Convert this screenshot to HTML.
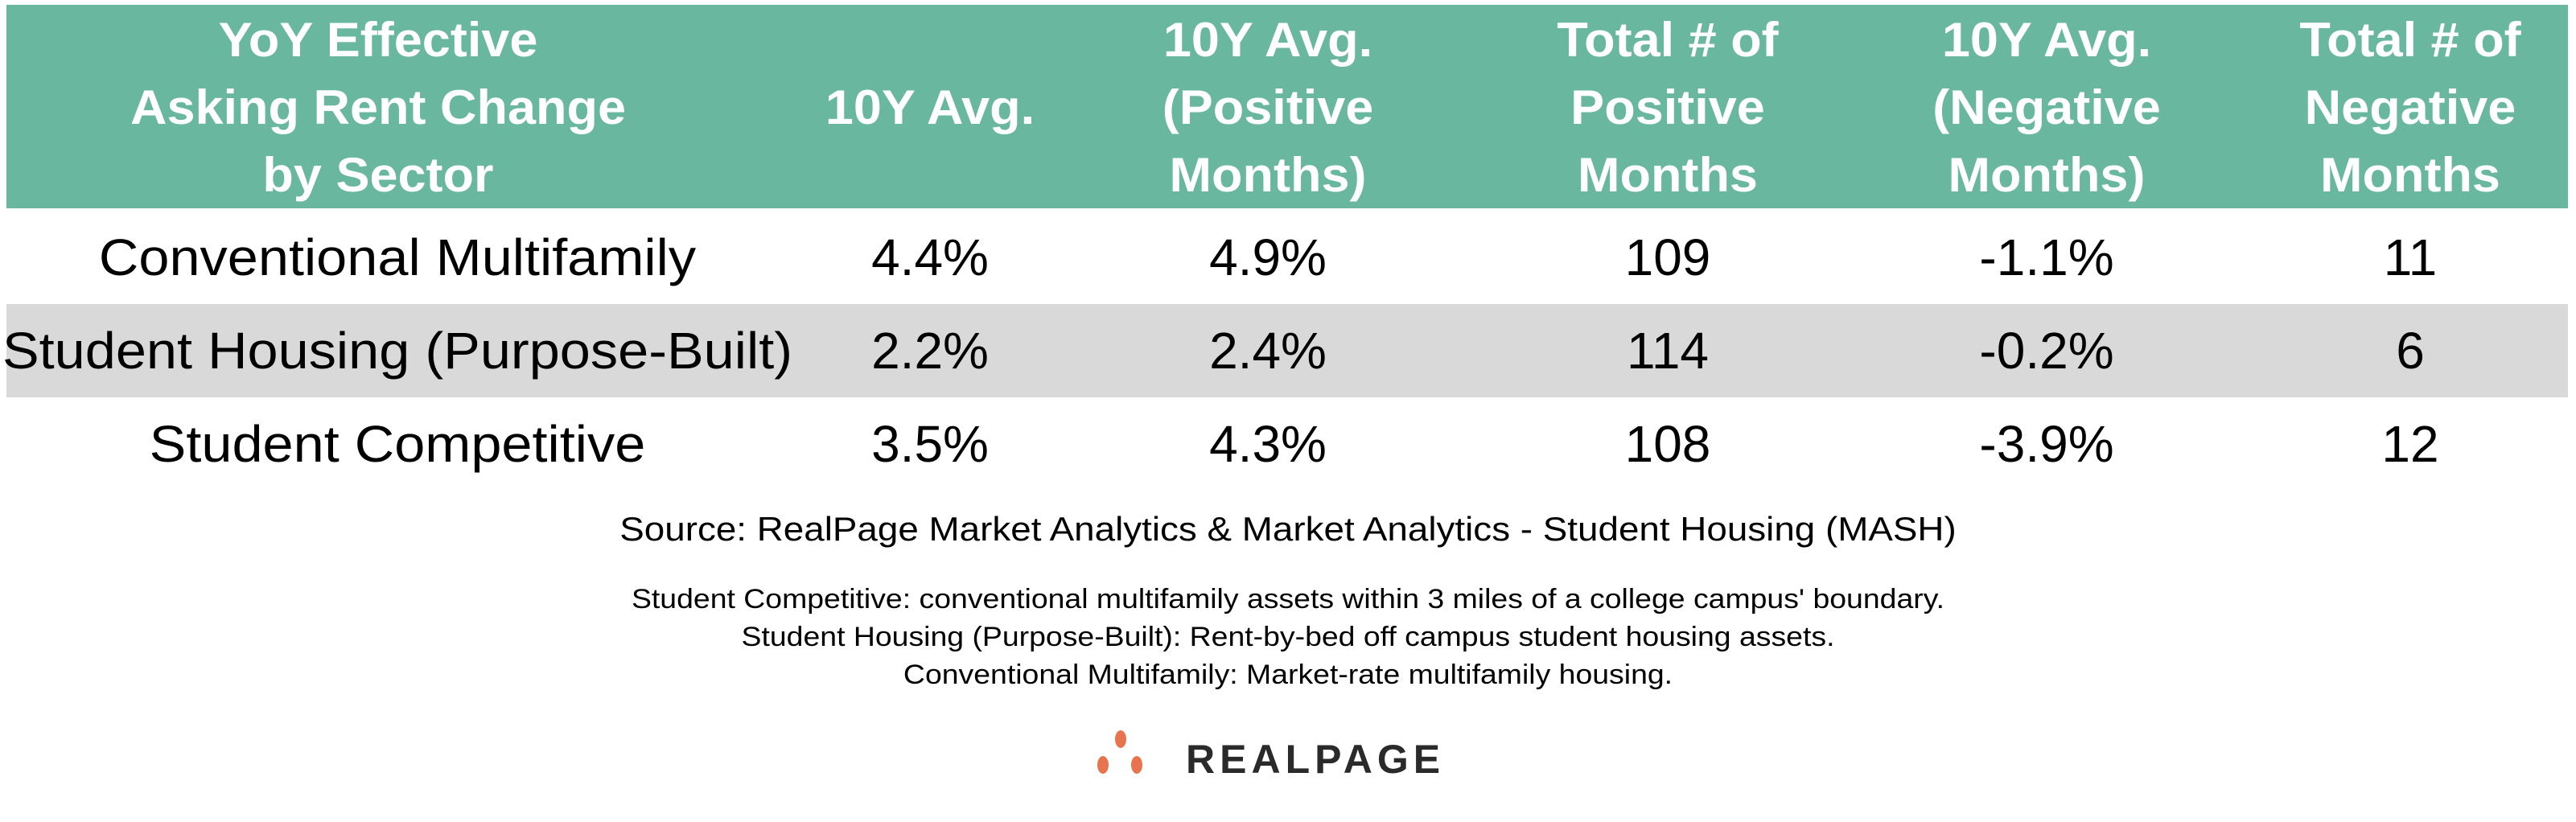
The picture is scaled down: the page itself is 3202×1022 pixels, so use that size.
<!DOCTYPE html>
<html><head><meta charset="utf-8"><style>
body{margin:0;width:3202px;height:1022px;background:#fff;font-family:"Liberation Sans",sans-serif;position:relative;overflow:hidden}
.hdr{position:absolute;left:8px;top:6px;width:3184px;height:253px;background:#69b79f}
.row{position:absolute;left:8px;width:3184px;height:116px}
.c{position:absolute;transform:translateX(-50%);text-align:center;white-space:nowrap}
.h{color:#fff;font-weight:bold;font-size:60px;line-height:84px;top:0;transform:translateX(-50%) scaleX(1.05)}
.b{font-size:64px;line-height:116px;top:0;color:#000;transform:translateX(-50%) scaleX(1.07)}
.n{transform:translateX(-50%)}
.t{position:absolute;left:0;width:3202px;text-align:center;color:#000;transform-origin:1601px 0}
</style></head><body>
<div class="hdr">
<div class="c h" style="left:462px;top:2px">YoY Effective<br>Asking Rent Change<br>by Sector</div>
<div class="c h" style="left:1148px;top:86px">10Y Avg.</div>
<div class="c h" style="left:1568px;top:2px">10Y Avg.<br>(Positive<br>Months)</div>
<div class="c h" style="left:2065px;top:2px">Total # of<br>Positive<br>Months</div>
<div class="c h" style="left:2536px;top:2px">10Y Avg.<br>(Negative<br>Months)</div>
<div class="c h" style="left:2988px;top:2px">Total # of<br>Negative<br>Months</div>
</div>
<div class="row" style="top:262px">
<div class="c b" style="left:486px">Conventional Multifamily</div>
<div class="c b n" style="left:1148px">4.4%</div><div class="c b n" style="left:1568px">4.9%</div>
<div class="c b n" style="left:2065px">109</div><div class="c b n" style="left:2536px">-1.1%</div><div class="c b n" style="left:2988px">11</div>
</div>
<div class="row" style="top:378px;background:#d9d9d9">
<div class="c b" style="left:486px">Student Housing (Purpose-Built)</div>
<div class="c b n" style="left:1148px">2.2%</div><div class="c b n" style="left:1568px">2.4%</div>
<div class="c b n" style="left:2065px">114</div><div class="c b n" style="left:2536px">-0.2%</div><div class="c b n" style="left:2988px">6</div>
</div>
<div class="row" style="top:494px">
<div class="c b" style="left:486px">Student Competitive</div>
<div class="c b n" style="left:1148px">3.5%</div><div class="c b n" style="left:1568px">4.3%</div>
<div class="c b n" style="left:2065px">108</div><div class="c b n" style="left:2536px">-3.9%</div><div class="c b n" style="left:2988px">12</div>
</div>
<div class="t" style="top:634px;font-size:42px;transform:scaleX(1.09)">Source: RealPage Market Analytics &amp; Market Analytics - Student Housing (MASH)</div>
<div class="t" style="top:722px;font-size:34px;line-height:47px;transform:scaleX(1.1)">Student Competitive: conventional multifamily assets within 3 miles of a college campus' boundary.<br>Student Housing (Purpose-Built): Rent-by-bed off campus student housing assets.<br>Conventional Multifamily: Market-rate multifamily housing.</div>
<div style="position:absolute;left:1362px;top:908px;width:60px;height:64px">
<div style="position:absolute;left:24px;top:0;width:14px;height:22px;border-radius:50%;background:#e8734f"></div>
<div style="position:absolute;left:2px;top:32px;width:14px;height:22px;border-radius:50%;background:#e8734f"></div>
<div style="position:absolute;left:44px;top:32px;width:14px;height:22px;border-radius:50%;background:#e8734f"></div>
</div>
<div style="position:absolute;left:1474px;top:916px;font-size:50px;font-weight:bold;color:#2a2a2a;letter-spacing:6px;line-height:56px">REALPAGE</div>
</body></html>
